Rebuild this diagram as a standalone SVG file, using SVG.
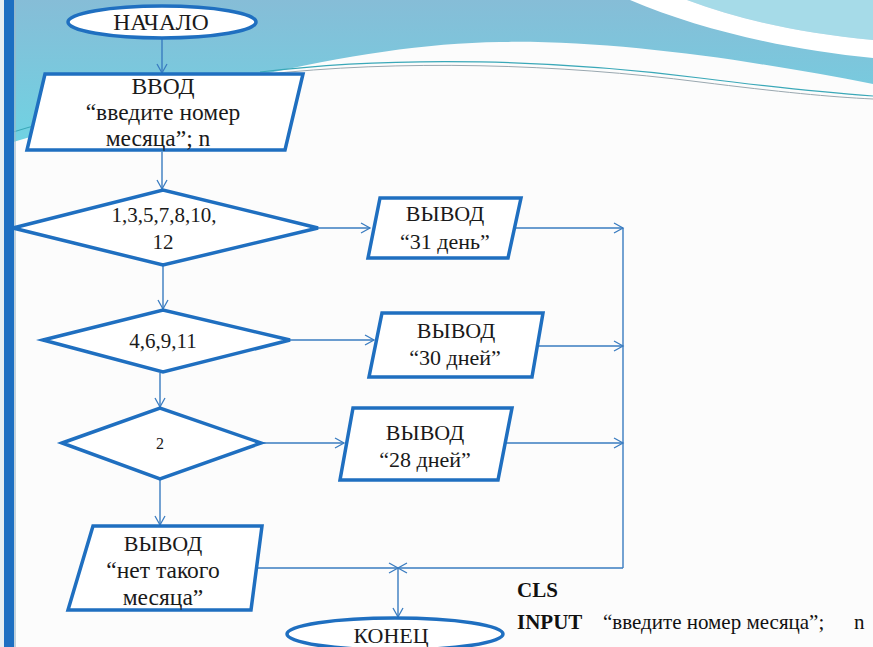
<svg xmlns="http://www.w3.org/2000/svg" width="873" height="647" viewBox="0 0 873 647">
<defs>
<linearGradient id="sky" x1="0" y1="0" x2="0" y2="1">
<stop offset="0" stop-color="#86bdd7"/>
<stop offset="1" stop-color="#6fd3e3"/>
</linearGradient>
<marker id="ar" markerWidth="12" markerHeight="12" refX="10" refY="6" orient="auto" markerUnits="userSpaceOnUse">
<path d="M1,1 L10,6 L1,11" fill="none" stroke="#3a7cc0" stroke-width="1.3"/>
</marker>
<style>
.sh{fill:#ffffff;stroke:#1f6fc0;stroke-width:3.5;stroke-linejoin:miter}
.cn{fill:none;stroke:#3a7cc0;stroke-width:1.4}
.t{font-family:"Liberation Serif","DejaVu Serif",serif;font-size:22px;fill:#1a1a1a;text-anchor:middle}
.big{font-size:23.5px}
.code{font-family:"Liberation Serif","DejaVu Serif",serif;font-size:21px;fill:#111111}
</style>
</defs>
<!-- background -->
<rect x="0" y="0" width="873" height="647" fill="#fcfcfc"/>
<path d="M0,0 H873 V84 C760,62 620,40 500,42 C370,44 220,80 20,140 L0,146 Z" fill="url(#sky)"/>
<path d="M687,0 C740,20 800,33 873,40 V0 Z" fill="#a6dbe8"/>
<path d="M630,0 C700,30 790,50 873,58 V40 C800,33 740,20 687,0 Z" fill="#ffffff"/>
<path d="M260,72 C400,55 560,60 700,78 C780,88 830,93 873,96" fill="none" stroke="#3aa8b8" stroke-width="1.2"/>
<path d="M260,75 C400,59 560,64 700,82 C780,92 830,97 873,99" fill="none" stroke="#9aa8b0" stroke-width="1"/>
<path d="M5,135 C40,122 80,115 120,110" fill="none" stroke="#3aa8b8" stroke-width="1.2"/>
<rect x="0" y="0" width="4" height="647" fill="#e6eef2"/>
<rect x="4" y="0" width="10" height="647" fill="#1d6fc2"/>
<rect x="14" y="0" width="2" height="647" fill="#9ab6c8" opacity="0.6"/>

<!-- connectors -->
<g id="connectors">
<line class="cn" x1="162" y1="39" x2="162" y2="73" marker-end="url(#ar)"/>
<line class="cn" x1="162" y1="152" x2="162" y2="189" marker-end="url(#ar)"/>
<line class="cn" x1="163" y1="266" x2="163" y2="309" marker-end="url(#ar)"/>
<line class="cn" x1="318" y1="228" x2="370" y2="228" marker-end="url(#ar)"/>
<line class="cn" x1="514" y1="228" x2="623" y2="228" marker-end="url(#ar)"/>
<line class="cn" x1="290" y1="340" x2="374" y2="340" marker-end="url(#ar)"/>
<line class="cn" x1="537" y1="346" x2="623" y2="346" marker-end="url(#ar)"/>
<line class="cn" x1="160" y1="373" x2="160" y2="407" marker-end="url(#ar)"/>
<line class="cn" x1="261" y1="443" x2="344" y2="443" marker-end="url(#ar)"/>
<line class="cn" x1="505" y1="443" x2="623" y2="443" marker-end="url(#ar)"/>
<line class="cn" x1="160" y1="480" x2="160" y2="525" marker-end="url(#ar)"/>
<line class="cn" x1="623" y1="228" x2="623" y2="568"/>
<line class="cn" x1="623" y1="568" x2="398" y2="568" marker-end="url(#ar)"/>
<line class="cn" x1="257" y1="568" x2="398" y2="568" marker-end="url(#ar)"/>
<line class="cn" x1="398" y1="568" x2="398" y2="617" marker-end="url(#ar)"/>
</g>

<g id="start">
<ellipse class="sh" cx="162" cy="22" rx="94" ry="16"/>
<text class="t big" x="161" y="30">НАЧАЛО</text>
</g>
<g id="input">
<polygon class="sh" points="45,74 303,74 285,150 27,150"/>
<text class="t big" x="163" y="94">ВВОД</text>
<text class="t big" x="163" y="120">“введите номер</text>
<text class="t big" x="158" y="146">месяца”; n</text>
</g>
<g id="cond1">
<polygon class="sh" points="13,228 163,190 318,228 163,265"/>
<text class="t" x="164" y="222" style="font-size:21px">1,3,5,7,8,10,</text>
<text class="t" x="163" y="249" style="font-size:21px">12</text>
</g>
<g id="out1">
<polygon class="sh" points="380,198 521,198 508,258 368,258"/>
<text class="t" x="445" y="221">ВЫВОД</text>
<text class="t" x="445" y="249">“31 день”</text>
</g>
<g id="cond2">
<polygon class="sh" points="43,340 163,310 290,340 163,372"/>
<text class="t" x="163" y="348" style="font-size:21px">4,6,9,11</text>
</g>
<g id="out2">
<polygon class="sh" points="382,313 543,313 532,377 369,377"/>
<text class="t" x="456" y="338">ВЫВОД</text>
<text class="t" x="455" y="365">“30 дней”</text>
</g>
<g id="cond3">
<polygon class="sh" points="62,443 160,408 261,443 160,479"/>
<text class="t" x="160" y="449" style="font-size:16px">2</text>
</g>
<g id="out3">
<polygon class="sh" points="353,408 512,408 498,480 340,480"/>
<text class="t" x="425" y="440">ВЫВОД</text>
<text class="t" x="425" y="467">“28 дней”</text>
</g>
<g id="out4">
<polygon class="sh" points="93,526 262,526 251,610 68,610"/>
<text class="t" x="163" y="551">ВЫВОД</text>
<text class="t big" x="163" y="578">“нет такого</text>
<text class="t big" x="163" y="605">месяца”</text>
</g>
<g id="end">
<ellipse class="sh" cx="395" cy="634" rx="108" ry="16"/>
<text class="t" x="391" y="643">КОНЕЦ</text>
</g>
<g id="code">
<text class="code" x="517" y="597" font-weight="bold">CLS</text>
<text class="code" x="517" y="629" font-weight="bold">INPUT</text>
<text class="code" x="603" y="629">“введите номер месяца”;</text>
<text class="code" x="854" y="629">n</text>
</g>
</svg>
